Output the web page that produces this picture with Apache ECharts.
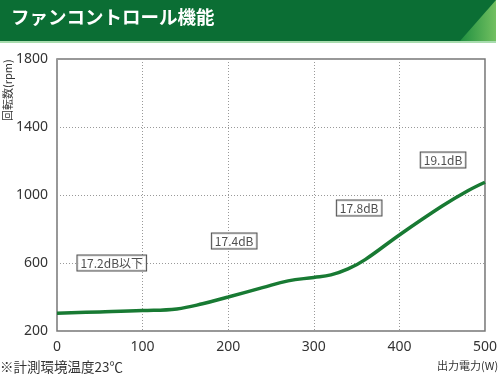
<!DOCTYPE html>
<html><head><meta charset="utf-8">
<script src="https://cdn.jsdelivr.net/npm/echarts@6/dist/echarts.min.js"></script>
<style>html,body{margin:0;padding:0;background:#fff}#c{width:500px;height:378px}</style>
</head><body><div id="c"></div>
<script>
var powerW = [0, 50, 100, 140, 170, 200, 240, 270, 300, 320, 340, 360, 400, 450, 480, 500];
var rpm = [305, 312, 320, 330, 360, 400, 455, 495, 515, 530, 565, 620, 765, 935, 1025, 1075];
var noiseLabels = ['17.2dB以下', '17.4dB', '17.8dB', '19.1dB'];
var noiseX = [64, 207, 353, 451];
var noiseY = [600, 729, 923, 1206];
var xTicks = [0, 100, 200, 300, 400, 500];
var yTicks = [200, 600, 1000, 1400, 1800];

var chart = echarts.init(document.getElementById('c'));
var font = '"Noto Sans CJK JP", "Noto Sans", sans-serif';
chart.setOption({
  animation: false,
  graphic: [
    {type: 'rect', shape: {x: 0, y: 0, width: 496, height: 41}, style: {fill: '#0b6e34'}},
    {type: 'polygon', shape: {points: [[460, 41], [496, 0], [496, 41]]},
      style: {fill: new echarts.graphic.LinearGradient(0, 0, 1, 0, [{offset: 0, color: '#1f8f40'}, {offset: 1, color: '#72c060'}])}},
    {type: 'rect', shape: {x: 0, y: 41, width: 496, height: 2}, style: {fill: '#a8dcae'}},
    {type: 'text', left: 11, top: 8, style: {text: 'ファンコントロール機能', fill: '#fff', font: 'bold 18.5px ' + font}},
    {type: 'text', left: 0, top: 360, style: {text: '※計測環境温度23℃', fill: '#333', font: '13.5px ' + font}},
    {type: 'text', left: 437, top: 360, style: {text: '出力電力(W)', fill: '#333', font: '11px ' + font}},
    {type: 'text', x: 2, y: 121, rotation: Math.PI / 2, style: {text: '回転数(rpm)', fill: '#333', font: '11px ' + font, align: 'left', verticalAlign: 'top'}}
  ],
  grid: {left: 57, right: 14, top: 59, bottom: 47, show: true, borderColor: '#777', borderWidth: 1.5},
  xAxis: {
    type: 'value', min: 0, max: 500, interval: 100,
    axisLine: {show: false}, axisTick: {show: false},
    axisLabel: {color: '#333', fontSize: 14, margin: 9, fontFamily: 'Noto Sans', formatter: function (v) { return String(v); }},
    splitLine: {show: true, lineStyle: {color: '#999', type: [1, 2], width: 1}}
  },
  yAxis: {
    type: 'value', min: 200, max: 1800, interval: 400,
    axisLine: {show: false}, axisTick: {show: false},
    axisLabel: {color: '#333', fontSize: 14, margin: 9, fontFamily: 'Noto Sans', formatter: function (v) { return String(v); }},
    splitLine: {show: true, lineStyle: {color: '#999', type: [1, 2], width: 1}}
  },
  series: [
    {type: 'line', data: powerW.map(function (w, i) { return [w, rpm[i]]; }),
      smooth: 0.4, showSymbol: false, lineStyle: {color: '#187a33', width: 3.5}, z: 3},
    {type: 'scatter', symbolSize: 0, z: 5,
      data: noiseLabels.map(function (t, i) { return {value: [noiseX[i], noiseY[i]], name: t}; }),
      label: {show: true, position: 'inside', formatter: '{b}', color: '#222', fontSize: 12, fontFamily: 'Noto Sans CJK JP',
        backgroundColor: '#fff', borderColor: '#222', borderWidth: 1, padding: [2, 3, 1, 3]}}
  ]
});
</script></body></html>
